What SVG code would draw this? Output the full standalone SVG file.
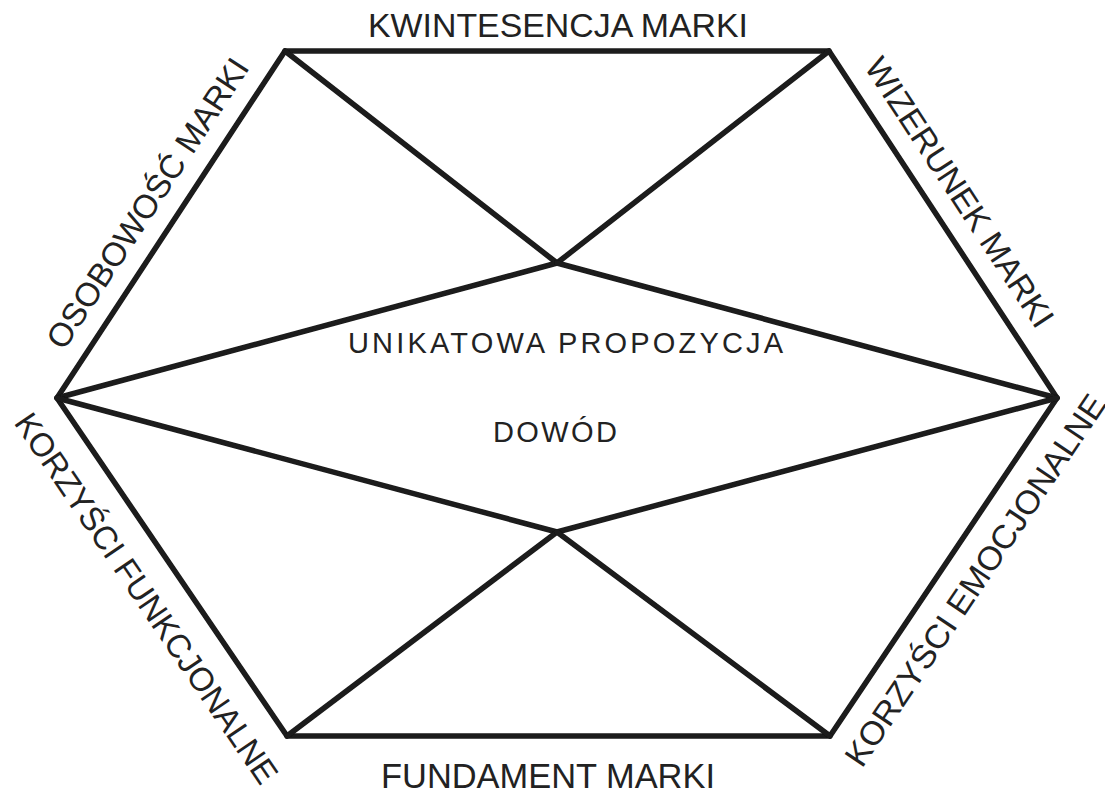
<svg xmlns="http://www.w3.org/2000/svg" width="1105" height="793" viewBox="0 0 1105 793">
  <defs>
    <filter id="soft" x="-5%" y="-5%" width="110%" height="110%">
      <feGaussianBlur stdDeviation="0.7"/>
    </filter>
    <style>
      .edge { stroke: #1a1a1a; stroke-width: 5.5; stroke-linecap: round; stroke-linejoin: round; fill: none; }
      .lbl { font-family: "Liberation Sans", Arial, sans-serif; fill: #222; }
      .side { font-size: 33px; }
      .mid { font-size: 29px; }
    </style>
  </defs>
  <rect width="1105" height="793" fill="#ffffff"/>

  <g id="connectors" filter="url(#soft)">
    <polygon class="edge" points="285,51 829,51 1057,398 830,736 287,736 57,398"/>
    <line class="edge" x1="285" y1="51" x2="557" y2="263"/>
    <line class="edge" x1="829" y1="51" x2="557" y2="263"/>
    <line class="edge" x1="57" y1="398" x2="557" y2="263"/>
    <line class="edge" x1="1057" y1="398" x2="557" y2="263"/>
    <line class="edge" x1="57" y1="398" x2="557" y2="532"/>
    <line class="edge" x1="1057" y1="398" x2="557" y2="532"/>
    <line class="edge" x1="287" y1="736" x2="557" y2="532"/>
    <line class="edge" x1="830" y1="736" x2="557" y2="532"/>
  </g>

  <g id="kwintesencja">
    <text class="lbl" x="368" y="37" font-size="33" textLength="380" lengthAdjust="spacingAndGlyphs">KWINTESENCJA MARKI</text>
  </g>
  <g id="fundament">
    <text class="lbl" x="381" y="788" font-size="35" textLength="334" lengthAdjust="spacingAndGlyphs">FUNDAMENT MARKI</text>
  </g>
  <g id="osobowosc">
    <text class="lbl side" x="157" y="209.5" text-anchor="middle" transform="rotate(-56.7 157 209.5)" textLength="340" lengthAdjust="spacingAndGlyphs">OSOBOWOŚĆ MARKI</text>
  </g>
  <g id="wizerunek">
    <text class="lbl side" x="950" y="198.5" text-anchor="middle" transform="rotate(56.7 950 198.5)" textLength="315" lengthAdjust="spacingAndGlyphs">WIZERUNEK MARKI</text>
  </g>
  <g id="korzysci-funkcjonalne">
    <text class="lbl side" x="137" y="604.7" text-anchor="middle" transform="rotate(55.8 137 604.7)" textLength="440" lengthAdjust="spacingAndGlyphs">KORZYŚCI FUNKCJONALNE</text>
  </g>
  <g id="korzysci-emocjonalne">
    <text class="lbl side" x="984.6" y="586.5" text-anchor="middle" transform="rotate(-56.1 984.6 586.5)" textLength="440" lengthAdjust="spacingAndGlyphs">KORZYŚCI EMOCJONALNE</text>
  </g>
  <g id="unikatowa-propozycja">
    <text class="lbl mid" x="348" y="353" textLength="435" lengthAdjust="spacing">UNIKATOWA PROPOZYCJA</text>
  </g>
  <g id="dowod">
    <text class="lbl mid" x="493" y="442" textLength="124" lengthAdjust="spacing">DOWÓD</text>
  </g>
</svg>
